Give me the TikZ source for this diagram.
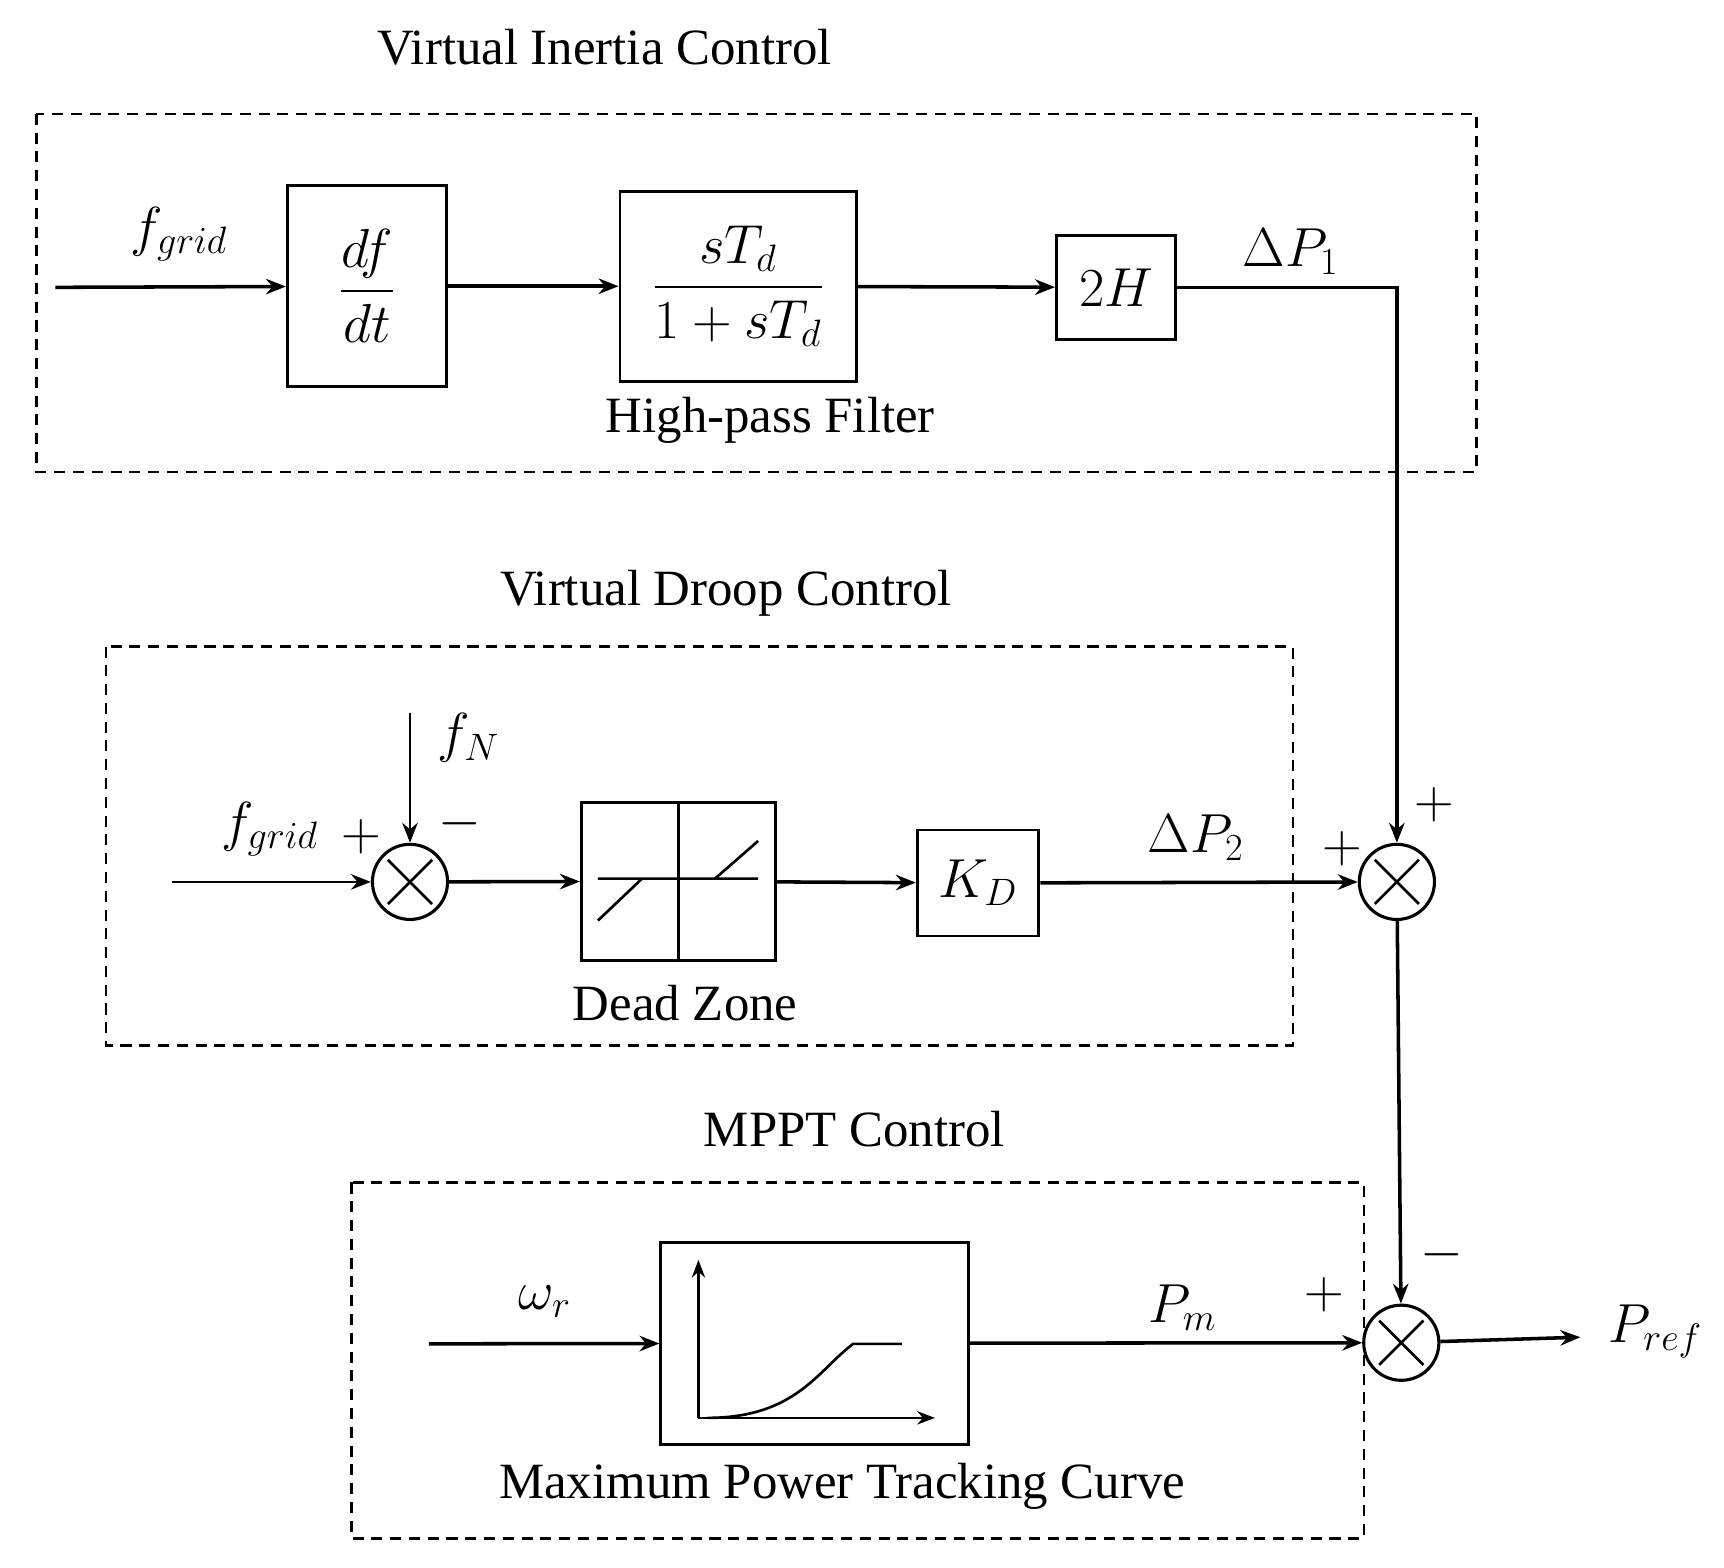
\documentclass[tikz,border=0pt]{standalone}
\usepackage{amsmath}
\usepackage{fontspec}
\setmainfont{Liberation Serif}
\usetikzlibrary{arrows.meta}
\begin{document}
\begin{tikzpicture}[x=0.5pt,y=-0.5pt,
  blk/.style={draw,line width=1.3pt,inner sep=0pt},
  grp/.style={draw,dash pattern=on 5pt off 3.5pt,line width=1.1pt},
  sig/.style={line width=1.6pt,-{Stealth[length=9pt,width=7pt]}},
  sum/.style={draw,line width=1.4pt,circle,minimum size=34pt,inner sep=0pt,path picture={\draw[line width=1.2pt] (path picture bounding box.north west)++(7pt,-7pt) -- ([shift={(-7pt,7pt)}]path picture bounding box.south east); \draw[line width=1.2pt] ([shift={(7pt,7pt)}]path picture bounding box.south west) -- ([shift={(-7pt,-7pt)}]path picture bounding box.north east);}},
  ttl/.style={font=\fontsize{23}{27}\selectfont},
  lbl/.style={font=\fontsize{25}{29}\selectfont}]
\useasboundingbox (0,0) rectangle (1560,1418);
% Virtual inertia
\node[ttl] (t1) at (547,43) {Virtual Inertia Control};
\draw[grp] (33,103) rectangle (1336,427);
\node[blk,minimum width=72pt,minimum height=91pt] (b1) at (332,259) {};
\node[lbl] (b1t) at (b1) {$\dfrac{df}{dt}$};
\node[blk,minimum width=107pt,minimum height=86pt] (b2) at (668,259) {};
\node[lbl] (b2t) at (b2) {$\dfrac{sT_d}{1+sT_d}$};
\node[ttl] (hp) at (697,380) {High-pass Filter};
\node[blk,minimum width=54pt,minimum height=47pt,lbl] (b3) at (1010,260) {$2H$};
\coordinate (in1) at (50,260);
\node[lbl] (fg1) at (162,212) {$f_{grid}$};
\draw[sig] (in1) -- (b1);
\draw[sig] (b1) -- (b2);
\draw[sig] (b2) -- (b3);
\node[lbl] (dp1) at (1168,228) {$\Delta P_1$};
% Droop
\node[ttl] (t2) at (657,537) {Virtual Droop Control};
\draw[grp] (96,585) rectangle (1170,946);
\node[sum] (s1) at (371,798) {};
\coordinate (fNs) at (371,645);
\draw[line width=1.2pt,-{Stealth[length=9pt,width=7pt]}] (fNs) -- (s1);
\node[lbl] (fN) at (424,668) {$f_N$};
\node[lbl] (m1) at (416,745) {$-$};
\node[lbl] (p1) at (327,757) {$+$};
\node[lbl] (fg2) at (244,750) {$f_{grid}$};
\coordinate (in2) at (156,798);
\draw[line width=1.2pt,-{Stealth[length=9pt,width=7pt]}] (in2) -- (s1);
\node[blk,minimum width=88pt,minimum height=71.5pt] (dz) at (614,797.5) {};
\draw[line width=1.2pt] (614,726) -- (614,869) (541,795) -- (686,795) (541,833) -- (581,795) (647,795) -- (686,761);
\node[ttl] (dzl) at (620,908) {Dead Zone};
\node[blk,minimum width=55pt,minimum height=48pt,lbl] (kd) at (885,799) {$K_D$};
\draw[sig] (s1) -- (dz);
\draw[sig] (dz) -- (kd);
\node[sum] (s2) at (1264,798) {};
\draw[sig] (kd) -- (s2);
\draw[sig] (b3.east) -| (s2.north);
\node[lbl] (dp2) at (1082,758) {$\Delta P_2$};
\node[lbl] (p2) at (1215,768) {$+$};
\node[lbl] (p3) at (1298,728) {$+$};
% MPPT
\node[ttl] (t3) at (773,1022) {MPPT Control};
\draw[grp] (318,1070) rectangle (1234,1392);
\node[blk,minimum width=139pt,minimum height=91.5pt] (mp) at (737,1215.5) {};
\draw[line width=1.2pt,-{Stealth[length=8pt,width=6pt]}] (632,1283) -- (632,1140);
\draw[line width=1.2pt,-{Stealth[length=8pt,width=6pt]}] (632,1283) -- (846,1283);
\draw[line width=1.2pt] (640,1283) .. controls (720,1283) and (740,1240) .. (772,1216) -- (816,1216);
\node[ttl] (mpl) at (762,1345) {Maximum Power Tracking Curve};
\coordinate (in3) at (388,1216);
\node[lbl] (wr) at (493,1178) {$\omega_r$};
\draw[sig] (in3) -- (mp);
\node[sum] (s3) at (1268,1215) {};
\draw[sig] (mp) -- (s3);
\draw[sig] (s2) -- (s3);
\node[lbl] (pm) at (1070,1183) {$P_m$};
\node[lbl] (p4) at (1198,1172) {$+$};
\node[lbl] (m2) at (1305,1135) {$-$};
\coordinate (out) at (1430,1210);
\draw[sig] (s3) -- (out);
\node[lbl,font=\fontsize{27}{31}\selectfont] (pr) at (1498,1205) {$P_{ref}$};
\end{tikzpicture}
\end{document}
